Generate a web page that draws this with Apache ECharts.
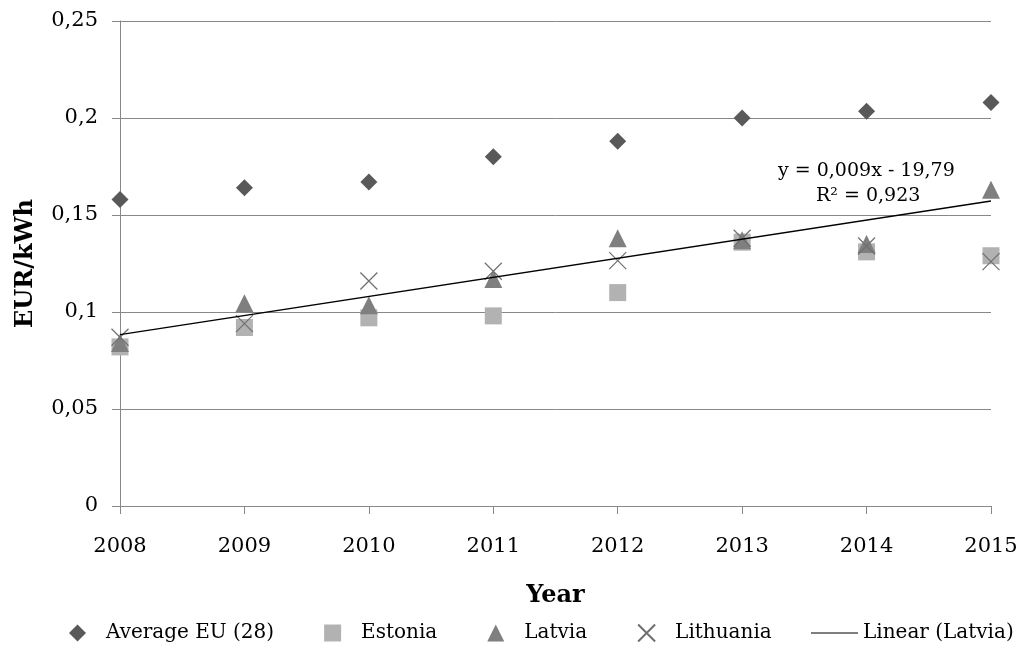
<!DOCTYPE html>
<html>
<head>
<meta charset="utf-8">
<title>EUR/kWh</title>
<script src="https://cdn.jsdelivr.net/npm/echarts@6/dist/echarts.min.js"></script>
<style>
  html, body { margin: 0; padding: 0; background: #fff; }
  #chart { width: 1026px; height: 646px; }
</style>
</head>
<body>
<div id="chart"></div>
<script>
var years = [2008, 2009, 2010, 2011, 2012, 2013, 2014, 2015];
var averageEU = [0.158, 0.164, 0.167, 0.180, 0.188, 0.200, 0.2035, 0.208];
var estonia = [0.082, 0.092, 0.097, 0.098, 0.110, 0.136, 0.131, 0.129];
var latvia = [0.084, 0.1045, 0.1035, 0.117, 0.138, 0.137, 0.135, 0.163];
var lithuania = [0.087, 0.094, 0.116, 0.121, 0.1265, 0.138, 0.134, 0.126];

var FONT = 'DejaVu Serif';
var DIAMOND = 'path://M5,0L10,5L5,10L0,5Z';
var SQUARE = 'path://M0,0H10V10H0Z';
var TRIANGLE = 'path://M5,0L10,10L0,10Z';
var CROSS = 'path://M0,0L10,10M10,0L0,10';
var DASH = 'path://M0,0H47V1H0Z';

function pairs(vals) {
  return years.map(function (y, i) { return [y, vals[i]]; });
}

// least squares trend for Latvia
var n = years.length, mx = 0, my = 0;
years.forEach(function (y, i) { mx += y; my += latvia[i]; });
mx /= n; my /= n;
var sxy = 0, sxx = 0;
years.forEach(function (y, i) { sxy += (y - mx) * (latvia[i] - my); sxx += (y - mx) * (y - mx); });
var slope = sxy / sxx, icpt = my - slope * mx;
var trend = [years[0], years[n - 1]].map(function (y) { return [y, icpt + slope * y]; });

var legendText = { fontFamily: FONT, fontSize: 20, color: '#000' };

var chart = echarts.init(document.getElementById('chart'));
chart.setOption({
  animation: false,
  textStyle: { fontFamily: FONT },
  grid: { left: 120, right: 35, top: 21, bottom: 140 },
  xAxis: {
    type: 'value', min: 2008, max: 2015, interval: 1,
    name: 'Year', nameLocation: 'middle', nameGap: 78,
    nameTextStyle: { fontFamily: FONT, fontSize: 24, fontWeight: 'bold', color: '#000' },
    axisLine: { lineStyle: { color: '#888', width: 1 } },
    axisTick: { show: true, length: 8, lineStyle: { color: '#888' } },
    axisLabel: { margin: 30, fontSize: 21, color: '#000', formatter: function (v) { return String(v); } },
    splitLine: { show: false }
  },
  yAxis: {
    type: 'value', min: 0, max: 0.25, interval: 0.05,
    name: 'EUR/kWh', nameLocation: 'middle', nameGap: 82,
    nameTextStyle: { fontFamily: FONT, fontSize: 24, fontWeight: 'bold', color: '#000' },
    axisLine: { show: true, lineStyle: { color: '#888', width: 1 } },
    axisTick: { show: true, length: 8, lineStyle: { color: '#888' } },
    axisLabel: { margin: 22, fontSize: 21, color: '#000',
      formatter: function (v) { return String(+v.toFixed(2)).replace('.', ','); } },
    splitLine: { lineStyle: { color: '#888', width: 1 } }
  },
  legend: [
    {
      left: 64, top: 618, itemWidth: 47, itemHeight: 17, itemGap: 50,
      textStyle: legendText,
      data: [
        { name: 'Average EU (28)', icon: DIAMOND },
        { name: 'Estonia', icon: SQUARE },
        { name: 'Latvia', icon: TRIANGLE },
        { name: 'Lithuania', icon: CROSS }
      ]
    },
    {
      left: 806, top: 618, itemWidth: 47, itemHeight: 17,
      textStyle: legendText,
      data: [{ name: 'Linear (Latvia)', icon: DASH }]
    }
  ],
  graphic: [
    { type: 'text', left: 778, top: 162, style: { text: 'y = 0,009x - 19,79', font: '19px "DejaVu Serif"', fill: '#000' } },
    { type: 'text', left: 816, top: 187, style: { text: 'R² = 0,923', font: '19px "DejaVu Serif"', fill: '#000' } }
  ],
  series: [
    { name: 'Average EU (28)', type: 'scatter', symbol: DIAMOND, symbolSize: 17,
      itemStyle: { color: '#595959', opacity: 1 }, data: pairs(averageEU) },
    { name: 'Estonia', type: 'scatter', symbol: SQUARE, symbolSize: 17,
      itemStyle: { color: '#b2b2b2', opacity: 1 }, data: pairs(estonia) },
    { name: 'Latvia', type: 'scatter', symbol: TRIANGLE, symbolSize: 18,
      itemStyle: { color: '#7f7f7f', opacity: 1 }, data: pairs(latvia) },
    { name: 'Lithuania', type: 'scatter', symbol: CROSS, symbolSize: 17,
      itemStyle: { color: 'rgba(0,0,0,0)', borderColor: '#6f6f6f', borderWidth: 1.2, opacity: 1 }, data: pairs(lithuania) },
    { name: 'Linear (Latvia)', type: 'line', symbol: 'none', z: 5,
      lineStyle: { color: '#000', width: 1.3 }, itemStyle: { color: '#000' }, data: trend }
  ]
});
</script>
</body>
</html>
